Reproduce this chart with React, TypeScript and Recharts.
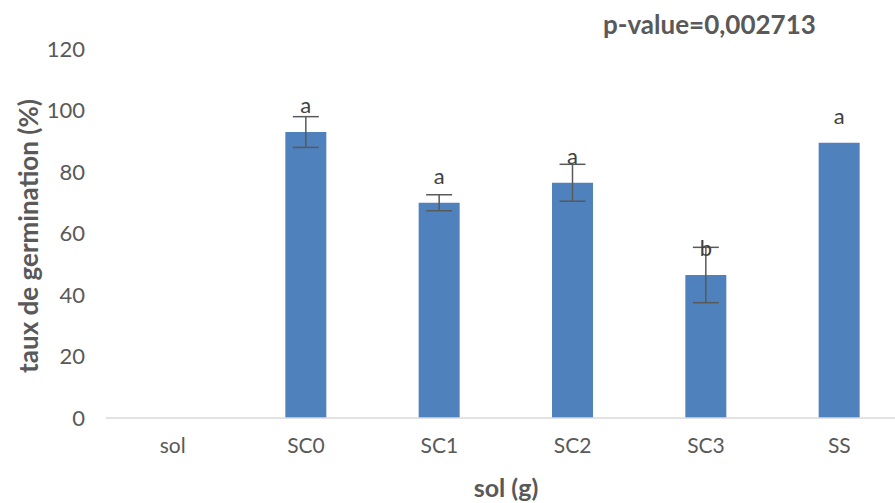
import React from 'react';
import { BarChart, Bar, XAxis, YAxis, ErrorBar, LabelList } from 'recharts';

const categories = ['sol', 'SC0', 'SC1', 'SC2', 'SC3', 'SS'];
const germination = [null, 93, 70, 76.5, 46.5, 89.5];
const errors = [null, 5, 2.6, 6, 9, null];
const letters = ['', 'a', 'a', 'a', 'b', 'a'];
const yTicks = [0, 20, 40, 60, 80, 100, 120];

const data = categories.map((c, i) => ({
  name: c,
  value: germination[i],
  err: errors[i],
  letter: letters[i],
}));

const FONT = 'Lato, "Open Sans", sans-serif';
const GREY = '#595959';

const LetterLabel = (props: any) => {
  const { x, y, width, value } = props;
  if (!value) return null;
  return (
    <text x={x + width / 2} y={y - 19} textAnchor="middle" fill="#404040" fontSize={22} fontFamily={FONT}>
      {value}
    </text>
  );
};

const YTitle = (props: any) => {
  const cx = 28;
  const cy = 236;
  return (
    <text x={cx} y={cy} transform={`rotate(-90 ${cx} ${cy})`} textAnchor="middle" dominantBaseline="central" fill={GREY} fontSize={26} fontWeight="bold" fontFamily={FONT}>
      taux de germination (%)
    </text>
  );
};

const XTitle = (props: any) => {
  return (
    <text x={506} y={497} textAnchor="middle" fill={GREY} fontSize={25} fontWeight="bold" fontFamily={FONT}>
      sol (g)
    </text>
  );
};

export default function App() {
  return (
    <div style={{ position: 'absolute', left: 0, top: 0, width: 895, height: 503, overflow: 'hidden', background: '#fff' }}>
      <BarChart width={906} height={503} data={data} margin={{ top: 49, right: 0, bottom: 0, left: 0 }}>
        <XAxis
          dataKey="name"
          height={85}
          tickLine={false}
          axisLine={{ stroke: '#d9d9d9', strokeWidth: 1.5 }}
          tick={{ fill: GREY, fontSize: 21, fontFamily: FONT }}
          tickMargin={14}
          label={<XTitle />}
        />
        <YAxis
          width={106}
          domain={[0, 120]}
          ticks={yTicks}
          axisLine={false}
          tickLine={false}
          tickSize={0}
          tickMargin={21}
          tick={{ fill: GREY, fontSize: 22, fontFamily: FONT }}
          label={<YTitle />}
        />
        <Bar dataKey="value" fill="#4f81bd" barSize={41} isAnimationActive={false}>
          <ErrorBar dataKey="err" width={13} stroke={GREY} strokeWidth={1.5} direction="y" />
          <LabelList dataKey="letter" content={<LetterLabel />} />
        </Bar>
      </BarChart>
      <div style={{ position: 'absolute', left: 603, top: 11, fontFamily: FONT, fontWeight: 'bold', fontSize: 26, lineHeight: 1, color: GREY, whiteSpace: 'nowrap' }}>
        p-value=0,002713
      </div>
    </div>
  );
}
